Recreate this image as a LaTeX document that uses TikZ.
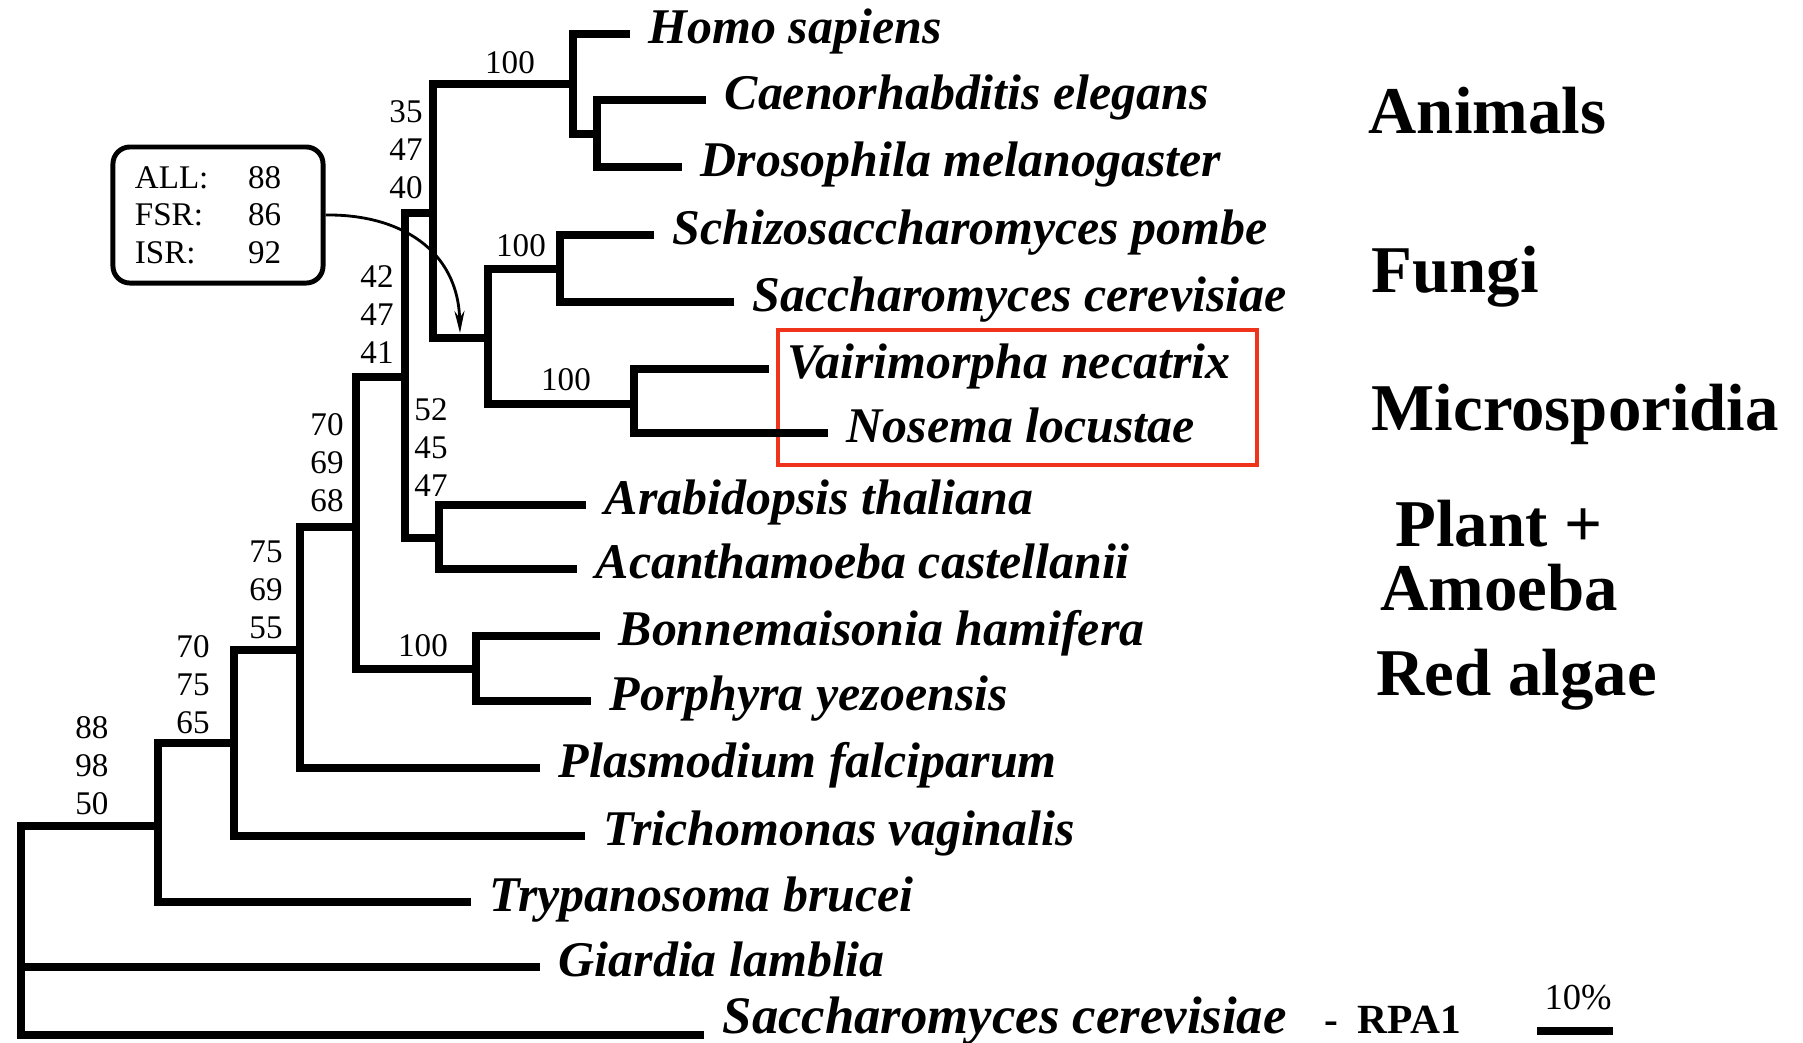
\documentclass[tikz,border=0pt]{standalone}
\usepackage{fontspec}
\setmainfont{Liberation Serif}
\usetikzlibrary{arrows.meta}

\begin{document}
\begin{tikzpicture}[x=0.01cm, y=-0.01cm,
    branch/.style={line width=2.1pt},
    taxon/.style={anchor=base west, inner sep=0pt, font=\fontsize{14.2pt}{17pt}\selectfont\bfseries\itshape},
    gene/.style={anchor=base west, inner sep=0pt, font=\fontsize{11.8pt}{14pt}\selectfont\bfseries},
    support/.style={inner sep=0pt, align=center, font=\fontsize{9.4pt}{10.8pt}\selectfont},
    group/.style={inner sep=0pt, font=\fontsize{19pt}{22pt}\selectfont\bfseries},
    suppbox/.style={draw, line width=1.4pt, rounded corners=0.17cm, align=left, text width=1.66cm,
        inner xsep=0.22cm, inner ysep=0pt, minimum height=1.36cm, font=\fontsize{9.4pt}{10.67pt}\selectfont},
    pointer/.style={line width=0.8pt, -{Stealth[length=0.22cm, width=0.1cm]}}]

    % Define colours
    \definecolor{boxRed}{RGB}{240,52,28}

    % Fix the canvas
    \useasboundingbox (0,0) rectangle (1803,1042);

    % Define coordinates for the leaf tips
    \coordinate (homo) at (630,34);
    \coordinate (caeno) at (706,100);
    \coordinate (droso) at (682,167);
    \coordinate (pombe) at (654,235);
    \coordinate (cerev) at (734,302);
    \coordinate (vairi) at (769,369);
    \coordinate (nosema) at (828,433);
    \coordinate (arabi) at (586,505);
    \coordinate (acanth) at (577,569);
    \coordinate (bonne) at (600,636);
    \coordinate (porphy) at (591,701);
    \coordinate (plasmo) at (540,768);
    \coordinate (tricho) at (585,836);
    \coordinate (trypano) at (471,902);
    \coordinate (giardia) at (540,967);
    \coordinate (rpa) at (704,1035);

    % Define coordinates for the inner nodes
    \coordinate (ceDro) at (597,134);
    \coordinate (anim) at (573,84);
    \coordinate (fungi) at (560,269);
    \coordinate (micro) at (634,404);
    \coordinate (fungMicro) at (488,338);
    \coordinate (opist) at (433,213);
    \coordinate (plantAm) at (439,538);
    \coordinate (crownA) at (405,377);
    \coordinate (redAlg) at (476,669);
    \coordinate (crownB) at (356,527);
    \coordinate (crownC) at (300,650);
    \coordinate (crownD) at (234,743);
    \coordinate (crownE) at (158,826);
    \coordinate (root) at (21,967);

    % Draw red frame round the microsporidia
    \draw[draw=boxRed, line width=0.9pt] (778,330) rectangle (1257,465);

    % Draw the branches
    \foreach \p/\c in {ceDro/caeno, ceDro/droso, anim/homo, anim/ceDro,
                       fungi/pombe, fungi/cerev, micro/vairi, micro/nosema,
                       fungMicro/fungi, fungMicro/micro, opist/anim, opist/fungMicro,
                       plantAm/arabi, plantAm/acanth, crownA/opist, crownA/plantAm,
                       redAlg/bonne, redAlg/porphy, crownB/crownA, crownB/redAlg,
                       crownC/crownB, crownC/plasmo, crownD/crownC, crownD/tricho,
                       crownE/crownD, crownE/trypano, root/crownE, root/giardia, root/rpa}
        \draw[branch] (\p) |- (\c);

    % Label the leaves
    \foreach \tip/\name in {homo/Homo sapiens, caeno/Caenorhabditis elegans,
                            droso/Drosophila melanogaster, pombe/Schizosaccharomyces pombe,
                            cerev/Saccharomyces cerevisiae, vairi/Vairimorpha necatrix,
                            nosema/Nosema locustae, arabi/Arabidopsis thaliana,
                            acanth/Acanthamoeba castellanii, bonne/Bonnemaisonia hamifera,
                            porphy/Porphyra yezoensis, plasmo/Plasmodium falciparum,
                            tricho/Trichomonas vaginalis, trypano/Trypanosoma brucei,
                            giardia/Giardia lamblia}
        \node[taxon] (\tip-name) at ([shift={(18,9)}]\tip) {\name};

    \node[taxon, font=\fontsize{15pt}{18pt}\selectfont\bfseries\itshape] (rpa-name)
        at ([shift={(18,-2)}]rpa) {Saccharomyces cerevisiae};
    \node[gene] (rpa-gene) at ([shift={(36,0)}]rpa-name.base east) {-\hspace{0.2cm}RPA1};

    % Bootstrap support values
    \node[support] (bsAnim) at (510,63) {100};
    \node[support] (bsOpist) at (406,150) {35\\47\\40};
    \node[support] (bsFungi) at (521,246) {100};
    \node[support] (bsCrownA) at (377,315) {42\\47\\41};
    \node[support] (bsMicro) at (566,380) {100};
    \node[support] (bsPlantAm) at (431,448) {52\\45\\47};
    \node[support] (bsCrownB) at (327,463) {70\\69\\68};
    \node[support] (bsCrownC) at (266,590) {75\\69\\55};
    \node[support] (bsRedAlg) at (423,646) {100};
    \node[support] (bsCrownD) at (193,685) {70\\75\\65};
    \node[support] (bsCrownE) at (92,766) {88\\98\\50};

    % Support box for fungi + microsporidia
    \node[suppbox] (supp) at (218,215)
        {\makebox[1.13cm][l]{ALL:}88\\\makebox[1.13cm][l]{FSR:}86\\\makebox[1.13cm][l]{ISR:}92};
    \coordinate (fmArrow) at (460,333);
    \draw[pointer] (supp.east) .. controls (400,214) and (458,250) .. (fmArrow);

    % Group names
    \node[group, anchor=base west] (lblAnimals) at (1368,133) {Animals};
    \node[group, anchor=base west] (lblFungi) at (1371,292) {Fungi};
    \node[group, anchor=base west] (lblMicro) at (1371,430) {Microsporidia};
    \node[group, anchor=base] (lblPlant) at (1499,546) {Plant +};
    \node[group, anchor=base] (lblAmoeba) at (1499,610) {Amoeba};
    \node[group, anchor=base west] (lblRed) at (1376,695) {Red algae};

    % Scale bar
    \coordinate (barL) at (1537,1031);
    \coordinate (barR) at (1613,1031);
    \draw[line width=2.2pt] (barL) -- (barR);
    \node[support, font=\fontsize{10.4pt}{12pt}\selectfont] (barLabel) at (1578,998) {10\%};

\end{tikzpicture}
\end{document}
